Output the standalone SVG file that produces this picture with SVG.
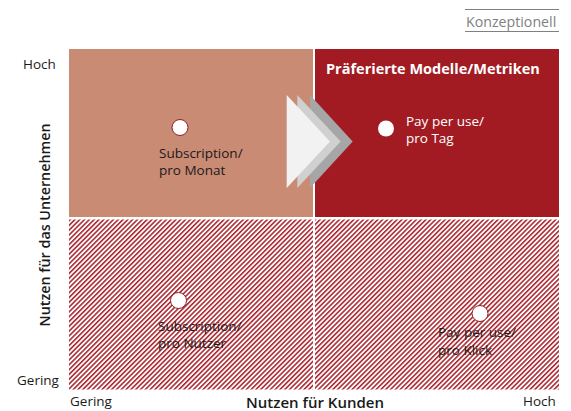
<svg xmlns="http://www.w3.org/2000/svg" width="571" height="411" viewBox="0 0 571 411">
<defs>
<pattern id="hatch" width="3.4" height="3.4" patternUnits="userSpaceOnUse" patternTransform="rotate(45)">
<rect width="3.4" height="3.4" fill="#FFFFFF"/>
<rect width="1.6" height="3.4" fill="#AD2A33"/>
</pattern>
<style>
text{font-family:"Open Sans","Noto Sans","Liberation Sans",sans-serif;}
.lbl{font-size:13.5px;fill:#1A1A1A;}
.axis{font-size:14.3px;font-weight:600;fill:#1A1A1A;}
.wt{font-size:13.5px;fill:#FFFFFF;}
.dot{fill:#FFFFFF;stroke:#8E1D22;stroke-width:1;}
</style>
</defs>
<rect width="571" height="411" fill="#FFFFFF"/>
<g id="tag">
<line x1="465" y1="9.5" x2="559" y2="9.5" stroke="#808080" stroke-width="1"/>
<line x1="465" y1="31.5" x2="559" y2="31.5" stroke="#808080" stroke-width="1"/>
<text x="466" y="26.5" style="font-size:14.2px;fill:#7F7F7F">Konzeptionell</text>
</g>
<g id="quadrants">
<rect id="q-top-left" x="69" y="49" width="244" height="168" fill="#CA8B74"/>
<rect id="q-top-right" x="315" y="49" width="244" height="168" fill="#A21B23"/>
<rect id="q-bottom-left" x="69" y="219.5" width="244" height="170" fill="url(#hatch)"/>
<rect id="q-bottom-right" x="315" y="219.5" width="244" height="170" fill="url(#hatch)"/>
</g>
<g id="connectors">
<polygon points="310,95 352.7,141.5 310,188" fill="#A6A6A6"/>
<polygon points="297.3,95 340.7,141.5 297.3,188" fill="#D0D0D0"/>
<polygon points="286.7,95 330,141.5 286.7,188" fill="#F2F2F2"/>
</g>
<g id="title">
<text x="326" y="74" style="font-size:14.5px;font-weight:700;fill:#FFFFFF">Präferierte Modelle/Metriken</text>
</g>
<g id="node-sub-monat">
<circle class="dot" cx="180" cy="127.5" r="8"/>
<text class="lbl" x="159" y="158">Subscription/</text>
<text class="lbl" x="159" y="175">pro Monat</text>
</g>
<g id="node-pay-tag">
<circle cx="386" cy="128.5" r="8" fill="#FFFFFF"/>
<text class="wt" x="406" y="125.5">Pay per use/</text>
<text class="wt" x="406" y="143">pro Tag</text>
</g>
<g id="node-sub-nutzer">
<circle class="dot" cx="178.5" cy="300.5" r="8"/>
<text class="lbl" x="158" y="330.5">Subscription/</text>
<text class="lbl" x="158" y="348">pro Nutzer</text>
</g>
<g id="node-pay-klick">
<circle class="dot" cx="480" cy="313.5" r="8"/>
<text class="lbl" x="438" y="337">Pay per use/</text>
<text class="lbl" x="438" y="355">pro Klick</text>
</g>
<g id="axes">
<text class="lbl" x="23" y="69">Hoch</text>
<text class="lbl" x="17" y="385">Gering</text>
<text class="lbl" x="70" y="406">Gering</text>
<text class="lbl" x="523" y="406">Hoch</text>
<text class="axis" x="315" y="408" text-anchor="middle" style="font-size:15px">Nutzen für Kunden</text>
<text class="axis" transform="translate(50,225) rotate(-90)" text-anchor="middle">Nutzen für das Unternehmen</text>
</g>
</svg>
